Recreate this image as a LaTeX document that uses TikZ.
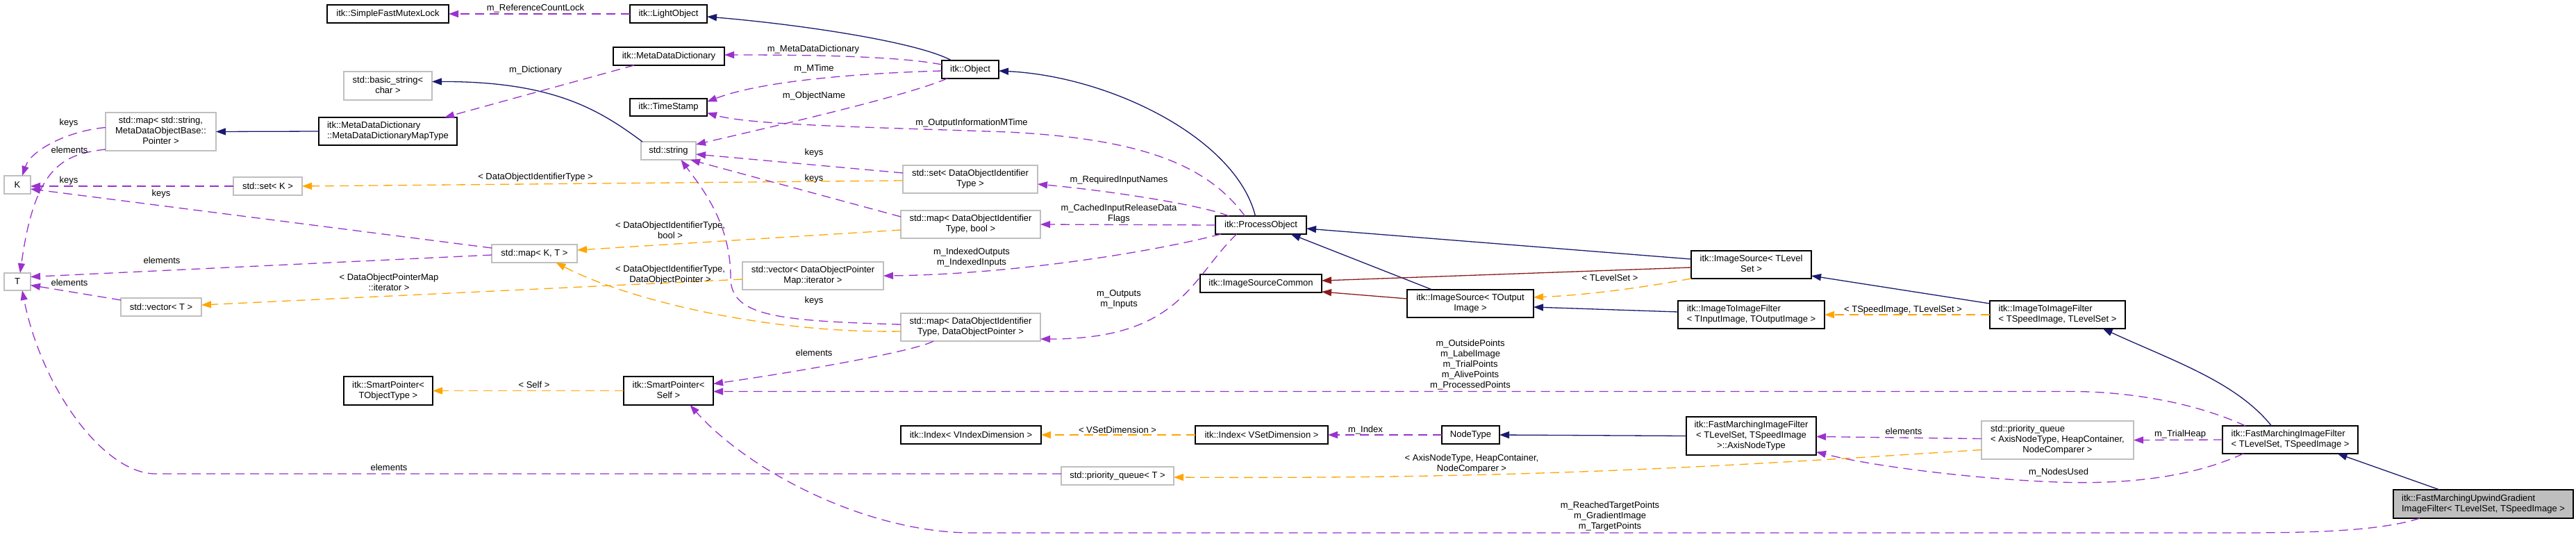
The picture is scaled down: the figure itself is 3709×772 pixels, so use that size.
\documentclass[tikz,border=0pt]{standalone}
\usepackage{fontspec}
\setmainfont{Liberation Sans}
\usetikzlibrary{arrows.meta,calc}
\definecolor{cpurple}{HTML}{9A32CD}
\definecolor{corange}{HTML}{FFA500}
\definecolor{cblue}{HTML}{191970}
\definecolor{cred}{HTML}{8B1A1A}
\definecolor{cgray}{HTML}{BFBFBF}
\newcommand\cls[6]{\node[#1,minimum width={(#5-#3)*0.5pt},minimum height={(#6-#4)*0.5pt}] (#2) at ({(#3+#5)/2},{(#4+#6)/2})}
\newcommand\tb[1]{\begin{tabular}{@{}c@{}}#1\end{tabular}}
\newcommand\lf[1]{\multicolumn{1}{@{}l@{}}{#1}}
\begin{document}
\begin{tikzpicture}[x=0.5pt,y=-0.5pt,
  every node/.style={font=\fontsize{6.5}{7.5}\selectfont, inner sep=0pt, outer sep=0pt},
  bk/.style={draw=black, line width=0.7pt, fill=white},
  gr/.style={draw=cgray, line width=0.7pt, fill=white},
  me/.style={draw=black, line width=0.7pt, fill=cgray},
  lbl/.style={align=center},
  tip/.style={-{Triangle[length=7pt,width=5pt]}},
  use/.style={tip, draw=cpurple, line width=0.65pt, dash pattern=on 6.5pt off 4pt},
  tmpl/.style={tip, draw=corange, line width=0.65pt, dash pattern=on 6.5pt off 4pt},
  inh/.style={tip, draw=cblue, line width=0.65pt},
  prot/.style={tip, draw=cred, line width=0.65pt}]
\fill[white] (0,0) rectangle (3709,772);
\useasboundingbox (0,0) rectangle (3709,772);

% ---------------- nodes ----------------
\cls{bk}{sfml}{471}{7}{646}{33}{itk::SimpleFastMutexLock};
\cls{bk}{lo}{907}{7}{1018}{33}{itk::LightObject};
\cls{bk}{mdd}{883}{68}{1043}{94}{itk::MetaDataDictionary};
\cls{bk}{obj}{1356}{87}{1438}{113}{itk::Object};
\cls{gr}{bstr}{495}{103}{622}{144}{\tb{std::basic\_string<\\char >}};
\cls{bk}{ts}{907}{142}{1018}{167}{itk::TimeStamp};
\cls{gr}{mapss}{152}{162}{311}{217}{\tb{std::map< std::string,\\MetaDataObjectBase::\\Pointer >}};
\cls{bk}{mddmt}{459}{169}{658}{209}{\tb{\lf{itk::MetaDataDictionary}\\::MetaDataDictionaryMapType}};
\cls{gr}{K}{6}{253}{44}{279}{K};
\cls{gr}{setk}{336}{255}{435}{281}{std::set< K >};
\cls{gr}{str}{923}{204}{1002}{230}{std::string};
\cls{gr}{setd}{1300}{238}{1494}{278}{\tb{std::set< DataObjectIdentifier\\Type >}};
\cls{gr}{mapdb}{1297}{303}{1498}{343}{\tb{std::map< DataObjectIdentifier\\Type, bool >}};
\cls{bk}{po}{1750}{311}{1881}{337}{itk::ProcessObject};
\cls{gr}{mapkt}{708}{352}{831}{378}{std::map< K, T >};
\cls{gr}{vecd}{1069}{377}{1272}{417}{\tb{std::vector< DataObjectPointer\\Map::iterator >}};
\cls{gr}{T}{6}{393}{44}{418}{T};
\cls{bk}{isc}{1728}{395}{1903}{421}{itk::ImageSourceCommon};
\cls{bk}{isl}{2435}{361}{2608}{401}{\tb{itk::ImageSource< TLevel\\Set >}};
\cls{bk}{iso}{2026}{417}{2208}{457}{\tb{itk::ImageSource< TOutput\\Image >}};
\cls{gr}{vect}{174}{429}{290}{455}{std::vector< T >};
\cls{bk}{itio}{2416}{433}{2627}{473}{\tb{\lf{itk::ImageToImageFilter}\\< TInputImage, TOutputImage >}};
\cls{bk}{itsl}{2865}{433}{3060}{473}{\tb{\lf{itk::ImageToImageFilter}\\< TSpeedImage, TLevelSet >}};
\cls{gr}{mapdp}{1297}{451}{1498}{491}{\tb{std::map< DataObjectIdentifier\\Type, DataObjectPointer >}};
\cls{bk}{spt}{495}{542}{623}{583}{\tb{itk::SmartPointer<\\TObjectType >}};
\cls{bk}{sps}{898}{542}{1027}{583}{\tb{itk::SmartPointer<\\Self >}};
\cls{bk}{axis}{2428}{600}{2615}{655}{\tb{\lf{itk::FastMarchingImageFilter}\\< TLevelSet, TSpeedImage\\>::AxisNodeType}};
\cls{gr}{pqa}{2853}{606}{3072}{661}{\tb{\lf{std::priority\_queue}\\< AxisNodeType, HeapContainer,\\NodeComparer >}};
\cls{bk}{idxv}{1297}{613}{1499}{639}{itk::Index< VIndexDimension >};
\cls{bk}{idxs}{1721}{613}{1912}{639}{itk::Index< VSetDimension >};
\cls{bk}{nt}{2076}{613}{2159}{639}{NodeType};
\cls{bk}{fmif}{3200}{613}{3395}{653}{\tb{\lf{itk::FastMarchingImageFilter}\\< TLevelSet, TSpeedImage >}};
\cls{gr}{pqt}{1528}{672}{1690}{698}{std::priority\_queue< T >};
\cls{me}{fmug}{3446}{705}{3705}{746}{\tb{\lf{itk::FastMarchingUpwindGradient}\\ImageFilter< TLevelSet, TSpeedImage >}};

% ---------------- edges ----------------
\draw[use] (lo.west) -- (sfml.east);
\draw[inh] ($(obj.north)+(-27,0)$) .. controls (1320,60) and (1150,35) .. ($(lo.east)+(0,4)$);
\draw[use] ($(obj.west)+(0,-7)$) .. controls (1290,80) and (1150,79) .. ($(mdd.east)+(0,-2)$);
\draw[use] ($(obj.west)+(0,2)$) .. controls (1250,105) and (1100,115) .. ($(ts.east)+(0,-8)$);
\draw[use] ($(obj.south west)+(8,0)$) .. controls (1300,140) and (1100,185) .. ($(str.east)+(0,-9)$);
\draw[inh] ($(po.north)+(-8,0)$) .. controls (1780,200) and (1600,110) .. ($(obj.east)+(0,2)$);
\draw[use] ($(po.north)+(-23,0)$) .. controls (1740,240) and (1650,200) .. (1450,190) .. controls (1250,183) and (1080,180) .. ($(ts.east)+(0,8)$);
\draw[use] ($(po.north)+(-46,0)$) .. controls (1730,295) and (1600,275) .. ($(setd.east)+(0,7)$);
\draw[use] (po.west) -- (mapdb.east);
\draw[use] ($(po.south west)+(8,0)$) .. controls (1650,365) and (1450,395) .. (vecd.east);
\draw[use] ($(po.south)+(-35,0)$) .. controls (1715,400) and (1700,488) .. ($(mapdp.east)+(0,17)$);
\draw[use] ($(mdd.south west)+(30,0)$) -- ($(mddmt.north east)+(-18,0)$);
\draw[inh] (mddmt.west) -- (mapss.east);
\draw[inh] ($(str.north west)+(2,0)$) .. controls (865,160) and (800,117) .. ($(bstr.east)+(0,-6)$);
\draw[use] ($(mapss.west)+(0,-6)$) .. controls (100,188) and (45,215) .. ($(K.north)+(7,0)$);
\draw[use] ($(mapss.south west)+(0,-2)$) .. controls (90,222) and (50,240) .. ($(T.north)+(4,0)$);
\draw[use] (setk.west) -- ($(K.east)+(0,2)$);
\draw[use] ($(mapkt.west)+(0,-8)$) -- ($(K.east)+(0,6)$);
\draw[use] ($(mapkt.west)+(0,2)$) -- ($(T.east)+(0,-7)$);
\draw[use] ($(vect.north west)+(0,3)$) -- ($(T.east)+(0,5)$);
\draw[use] ($(pqt.west)+(0,-3)$) -- (224,682) .. controls (150,682) and (60,560) .. ($(T.south)+(7,0)$);
\draw[use] ($(setd.west)+(0,-9)$) -- ($(str.east)+(0,5)$);
\draw[tmpl] ($(setd.west)+(0,2)$) -- (setk.east);
\draw[use] ($(mapdb.west)+(0,-11)$) -- ($(str.south east)+(-8,0)$);
\draw[tmpl] ($(mapdb.west)+(0,8)$) -- ($(mapkt.east)+(0,-5)$);
\draw[tmpl] ($(vecd.west)+(0,5)$) -- ($(vect.east)+(0,-3)$);
\draw[use] ($(mapdp.west)+(0,-4)$) .. controls (1120,462) and (1052,455) .. (1052,400) .. controls (1052,320) and (1010,270) .. ($(str.south)+(18,0)$);
\draw[tmpl] ($(mapdp.west)+(0,6)$) .. controls (1100,480) and (900,430) .. ($(mapkt.south)+(31,0)$);
\draw[use] ($(mapdp.south west)+(47,0)$) .. controls (1320,505) and (1150,535) .. ($(sps.east)+(0,-10)$);
\draw[tmpl] (sps.west) -- (spt.east);
\draw[inh] ($(isl.west)+(0,-8)$) -- ($(po.east)+(0,5)$);
\draw[inh] ($(iso.north)+(-55,0)$) -- ($(po.south)+(43,0)$);
\draw[prot] ($(isl.west)+(0,4)$) -- ($(isc.east)+(0,-4)$);
\draw[prot] ($(iso.west)+(0,-7)$) -- ($(isc.east)+(0,12)$);
\draw[tmpl] (isl.south west) .. controls (2360,415) and (2280,425) .. ($(iso.east)+(0,-9)$);
\draw[inh] ($(itio.west)+(0,-4)$) -- ($(iso.east)+(0,5)$);
\draw[inh] ($(itsl.north west)+(0,4)$) -- ($(isl.east)+(0,16)$);
\draw[tmpl] (itsl.west) -- (itio.east);
\draw[inh] ($(fmif.north)+(-27,0)$) .. controls (3220,550) and (3130,520) .. ($(itsl.south)+(65,0)$);
\draw[use] ($(fmif.north west)+(33,0)$) .. controls (3150,575) and (3050,563.5) .. (2983,563.5) -- ($(sps.east)+(0,1)$);
\draw[use] (fmif.west) -- (pqa.east);
\draw[use] ($(fmif.south west)+(30,0)$) .. controls (3150,690) and (3050,697) .. (2964,694) .. controls (2850,690) and (2700,672) .. ($(axis.east)+(0,23)$);
\draw[use] ($(pqa.west)+(0,-2)$) -- ($(axis.east)+(0,1)$);
\draw[tmpl] ($(pqa.west)+(0,14)$) .. controls (2500,670) and (2200,690) .. ($(pqt.east)+(0,2)$);
\draw[inh] (axis.west) -- (nt.east);
\draw[use] (nt.west) -- (idxs.east);
\draw[tmpl] (idxs.west) -- (idxv.east);
\draw[inh] ($(fmug.north)+(-63,0)$) -- ($(fmif.south)+(68,0)$);
\draw[use] ($(fmug.south west)+(38,0)$) .. controls (3420,767) and (3300,767) .. (3200,767) -- (1400,767) .. controls (1250,767) and (1080,680) .. ($(sps.south)+(31,0)$);

% ---------------- labels ----------------
\node[lbl] (l1) at (771,12) {m\_ReferenceCountLock};
\node[lbl] (l2) at (1171,71) {m\_MetaDataDictionary};
\node[lbl] (l3) at (1172,99) {m\_MTime};
\node[lbl] (l4) at (1172,138) {m\_ObjectName};
\node[lbl] (l5) at (1399,177) {m\_OutputInformationMTime};
\node[lbl] (l6) at (1611,259) {m\_RequiredInputNames};
\node[lbl] (l7) at (1611,308) {m\_CachedInputReleaseData\\Flags};
\node[lbl] (l8) at (1399,371) {m\_IndexedOutputs\\m\_IndexedInputs};
\node[lbl] (l9) at (1611,431) {m\_Outputs\\m\_Inputs};
\node[lbl] (l10) at (771,101) {m\_Dictionary};
\node[lbl] (l11) at (99,177) {keys};
\node[lbl] (l12) at (100,216) {elements};
\node[lbl] (l13) at (99,260) {keys};
\node[lbl] (l14) at (232,279) {keys};
\node[lbl] (l15) at (233,375) {elements};
\node[lbl] (l16) at (100,407) {elements};
\node[lbl] (l17) at (560,673) {elements};
\node[lbl] (l18) at (771,255) {< DataObjectIdentifierType >};
\node[lbl] (l19) at (1172,220) {keys};
\node[lbl] (l20) at (1172,257) {keys};
\node[lbl] (l21) at (965,331) {< DataObjectIdentifierType,\\bool >};
\node[lbl] (l22) at (560,406) {< DataObjectPointerMap\\::iterator >};
\node[lbl] (l23) at (1172,433) {keys};
\node[lbl] (l24) at (965,396) {< DataObjectIdentifierType,\\DataObjectPointer >};
\node[lbl] (l25) at (1172,508) {elements};
\node[lbl] (l26) at (769,554) {< Self >};
\node[lbl] (l27) at (2318,400) {< TLevelSet >};
\node[lbl] (l28) at (2740,446) {< TSpeedImage, TLevelSet >};
\node[lbl] (l29) at (2117,525) {m\_OutsidePoints\\m\_LabelImage\\m\_TrialPoints\\m\_AlivePoints\\m\_ProcessedPoints};
\node[lbl] (l30) at (3139,625) {m\_TrialHeap};
\node[lbl] (l31) at (2964,680) {m\_NodesUsed};
\node[lbl] (l32) at (2741,621) {elements};
\node[lbl] (l33) at (2119,668) {< AxisNodeType, HeapContainer,\\NodeComparer >};
\node[lbl] (l34) at (1966,619) {m\_Index};
\node[lbl] (l35) at (1609,619) {< VSetDimension >};
\node[lbl] (l36) at (2318,743) {m\_ReachedTargetPoints\\m\_GradientImage\\m\_TargetPoints};
\end{tikzpicture}
\end{document}
